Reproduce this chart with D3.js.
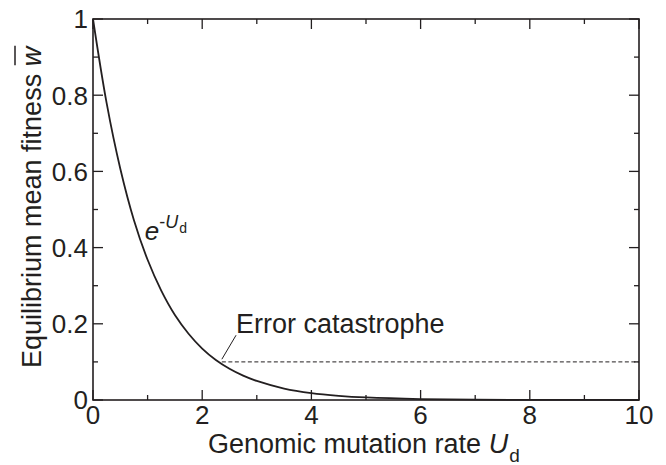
<!DOCTYPE html>
<html>
<head>
<meta charset="utf-8">
<script src="https://cdn.jsdelivr.net/npm/d3@7"></script>
<style>
  html, body { margin: 0; padding: 0; background: #fff; }
  svg text { font-family: "Liberation Sans", Arial, Helvetica, sans-serif; fill: #231f20; }
</style>
</head>
<body>
<svg id="chart"></svg>
<script>
// values (equilibrium mean fitness vs genomic mutation rate)
const mutationRate = [0, 0.25, 0.5, 0.75, 1, 1.25, 1.5, 1.75, 2, 2.25, 2.5, 2.75, 3, 3.5, 4, 4.5, 5, 6, 7, 8, 9, 10];
const meanFitness = [1, 0.779, 0.607, 0.472, 0.368, 0.287, 0.223, 0.174, 0.135, 0.105, 0.082, 0.064, 0.05, 0.03, 0.018, 0.011, 0.0067, 0.0025, 0.0009, 0.0003, 0.0001, 0.00005];

const xTicks = [0, 2, 4, 6, 8, 10];
const xMinorTicks = [1, 3, 5, 7, 9];
const yTicks = [0, 0.2, 0.4, 0.6, 0.8, 1];
const yTickLabels = ['0', '0.2', '0.4', '0.6', '0.8', '1'];
const yMinorTicks = [0.1, 0.3, 0.5, 0.7, 0.9];

const errorLevel = 0.1;
const errorStart = 2.36;

const width = 666, height = 465;
const margin = { top: 19, right: 27, bottom: 65, left: 93 };
const ink = '#231f20';

const svg = d3.select('#chart')
  .attr('width', width)
  .attr('height', height)
  .attr('viewBox', `0 0 ${width} ${height}`);

const x = d3.scaleLinear().domain([0, 10]).range([margin.left, width - margin.right]);
const y = d3.scaleLinear().domain([0, 1]).range([height - margin.bottom, margin.top]);

const g = svg.append('g');

// inward ticks on all four sides
function tickMarks(values, len, orient) {
  values.forEach(v => {
    if (orient === 'x') {
      g.append('line').attr('x1', x(v)).attr('x2', x(v))
        .attr('y1', y(0)).attr('y2', y(0) - len)
        .attr('stroke', ink).attr('stroke-width', 1.3);
      g.append('line').attr('x1', x(v)).attr('x2', x(v))
        .attr('y1', y(1)).attr('y2', y(1) + len)
        .attr('stroke', ink).attr('stroke-width', 1.3);
    } else {
      g.append('line').attr('y1', y(v)).attr('y2', y(v))
        .attr('x1', x(0)).attr('x2', x(0) + len)
        .attr('stroke', ink).attr('stroke-width', 1.3);
      g.append('line').attr('y1', y(v)).attr('y2', y(v))
        .attr('x1', x(10)).attr('x2', x(10) - len)
        .attr('stroke', ink).attr('stroke-width', 1.3);
    }
  });
}
tickMarks(xTicks, 10, 'x');
tickMarks(xMinorTicks, 5, 'x');
tickMarks(yTicks, 10, 'y');
tickMarks(yMinorTicks, 5, 'y');

// frame
g.append('rect')
  .attr('x', x(0)).attr('y', y(1))
  .attr('width', x(10) - x(0)).attr('height', y(0) - y(1))
  .attr('fill', 'none').attr('stroke', ink).attr('stroke-width', 1.6);

// tick labels
g.selectAll('.xlab').data(xTicks).join('text')
  .attr('class', 'xlab')
  .attr('x', d => x(d)).attr('y', y(0) + 24)
  .attr('text-anchor', 'middle')
  .attr('font-size', '26px')
  .text(d => d);

g.selectAll('.ylab').data(yTicks).join('text')
  .attr('class', 'ylab')
  .attr('x', x(0) - 5).attr('y', d => y(d))
  .attr('dy', '0.36em')
  .attr('text-anchor', 'end')
  .attr('font-size', '26px')
  .text((d, i) => yTickLabels[i]);

// error catastrophe threshold
g.append('line')
  .attr('x1', x(errorStart)).attr('x2', x(10))
  .attr('y1', y(errorLevel)).attr('y2', y(errorLevel))
  .attr('stroke', ink).attr('stroke-width', 1)
  .attr('stroke-dasharray', '4,2.5');

// fitness curve
const line = d3.line()
  .x((d, i) => x(mutationRate[i]))
  .y(d => y(d))
  .curve(d3.curveCatmullRom.alpha(0.5));

g.append('path')
  .attr('d', line(meanFitness))
  .attr('fill', 'none')
  .attr('stroke', ink)
  .attr('stroke-width', 1.8);

// annotations
g.append('line')
  .attr('x1', x(2.62)).attr('y1', y(0.17))
  .attr('x2', x(errorStart)).attr('y2', y(0.107))
  .attr('stroke', ink).attr('stroke-width', 1);

g.append('text')
  .attr('x', x(2.62)).attr('y', y(0.176))
  .attr('font-size', '27px')
  .text('Error catastrophe');

const curveLabel = g.append('text')
  .attr('x', x(0.95)).attr('y', y(0.42))
  .attr('font-size', '26px');
curveLabel.append('tspan').attr('font-style', 'italic').text('e');
curveLabel.append('tspan').attr('font-size', '18px').attr('dy', -12).text('-');
curveLabel.append('tspan').attr('font-size', '18px').attr('font-style', 'italic').text('U');
curveLabel.append('tspan').attr('font-size', '14px').attr('dx', 1).attr('dy', 5).text('d');

// axis titles
const xTitle = svg.append('text')
  .attr('x', 208).attr('y', 453)
  .attr('font-size', '27px');
xTitle.append('tspan').text('Genomic mutation rate ');
xTitle.append('tspan').attr('font-style', 'italic').text('U');
xTitle.append('tspan').attr('font-size', '19px').attr('dx', 1).attr('dy', 9).text('d');

const yTitle = svg.append('text')
  .attr('transform', 'translate(41,368) rotate(-90)')
  .attr('font-size', '27px');
yTitle.append('tspan').text('Equilibrium mean fitness ');
const wSpan = yTitle.append('tspan').attr('font-style', 'italic').text('w');

// overline on w
const wStart = wSpan.node().getStartPositionOfChar(0);
const wLen = wSpan.node().getComputedTextLength();
svg.append('line')
  .attr('transform', 'translate(41,368) rotate(-90)')
  .attr('x1', wStart.x + 1).attr('x2', wStart.x + wLen + 1)
  .attr('y1', -26).attr('y2', -26)
  .attr('stroke', ink).attr('stroke-width', 1.5);
</script>
</body>
</html>
